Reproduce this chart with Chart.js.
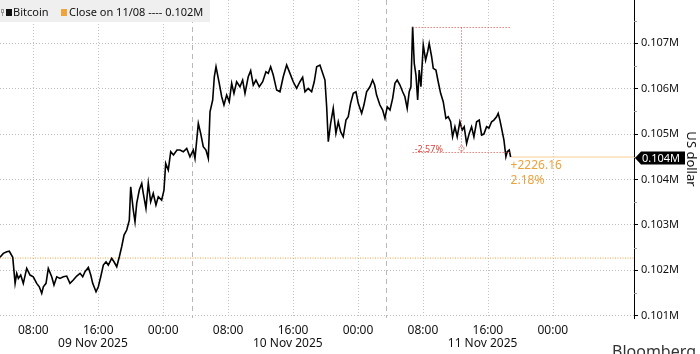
<!DOCTYPE html>
<html>
<head>
<meta charset="utf-8">
<script src="https://cdn.jsdelivr.net/npm/chart.js@4.4.1/dist/chart.umd.min.js"></script>
<style>
html, body { margin: 0; padding: 0; background: #fff; }
#wrap { width: 700px; height: 354px; }
</style>
</head>
<body>
<div id="wrap"><canvas id="chart" width="700" height="354"></canvas></div>
<script>
// hours since 09 Nov 2025 00:00
const hours = [3.90,4.31,4.73,5.05,5.47,5.76,5.96,6.16,6.45,6.77,7.19,7.60,8.00,8.42,8.74,9.04,9.24,9.57,9.85,10.27,
  10.55,10.89,11.29,11.70,12.12,12.52,12.93,13.35,13.76,14.09,14.37,14.78,15.08,15.32,15.73,16.01,16.31,16.63,16.96,17.24,
  17.66,17.94,18.28,18.60,18.89,19.18,19.51,19.83,20.00,20.32,20.53,20.74,21.06,21.36,21.55,21.88,22.17,22.46,22.78,23.11,
  23.40,23.81,24.10,24.31,24.63,24.93,25.27,25.70,26.07,26.48,26.90,27.30,27.71,27.92,28.33,28.62,28.94,29.27,29.56,29.77,
  30.10,30.30,30.51,30.67,30.91,31.21,31.49,31.82,32.14,32.44,32.72,33.05,33.46,33.79,34.08,34.48,34.78,35.10,35.43,35.84,
  36.26,36.66,36.95,37.24,37.56,37.98,38.39,38.79,39.21,39.62,40.02,40.44,40.85,41.18,41.47,41.87,42.29,42.61,42.91,43.31,
  43.65,43.93,44.14,44.34,44.63,44.95,45.28,45.57,45.86,46.18,46.52,46.80,47.09,47.42,47.75,48.03,48.45,48.73,49.06,49.47,
  49.80,50.05,50.29,50.70,51.04,51.32,51.60,51.94,52.27,52.55,52.83,53.17,53.50,53.78,54.06,54.31,54.52,54.73,54.93,55.14,
  55.35,55.54,55.75,56.04,56.33,56.58,56.77,57.07,57.27,57.60,57.88,58.18,58.50,58.83,59.11,59.41,59.65,59.94,60.22,60.55,
  60.84,61.08,61.38,61.70,61.99,62.28,62.61,62.93,63.23,63.51,63.84,64.13,64.46,64.74,65.07,65.27,65.48,65.69,65.98,66.22,
  66.38,66.63,66.80];
const prices = [102290,102374,102409,102420,102286,101713,101933,101823,101896,101713,102043,101896,101858,101713,101638,101493,101638,101713,102043,101858,
  101676,101858,101823,101858,101874,101713,101786,101874,101933,101858,101968,102065,101896,101713,101528,101638,101858,102116,102189,102116,
  102264,102189,102079,102299,102519,102777,102887,103107,103841,103328,103070,103475,103768,103916,103696,103365,103916,103511,103696,103438,
  103621,103548,103768,104356,104209,104612,104540,104650,104650,104612,104687,104502,104650,104467,105238,105017,104722,104650,104467,105493,
  105751,106264,106485,106339,106119,105824,105641,105861,105714,106119,105899,106154,106044,106192,105899,106264,106397,106081,106192,106044,
  106154,106375,106339,106485,106302,105971,105934,106264,106522,106339,106154,106009,106154,106251,105934,106009,105934,106154,106485,106522,
  106339,106192,105603,104832,105238,105568,105017,105273,105053,104942,105310,105383,105678,105899,105934,105678,105458,105641,105934,106044,
  106192,106081,105861,105641,105531,105348,105603,105531,105788,106119,106192,106081,105934,105824,105568,105934,106044,107366,106560,106302,
  105751,106412,106044,106963,106632,106815,107000,106705,106449,106412,106154,105899,105714,105348,105383,105273,104942,105163,104942,105273,
  105090,105163,104797,105017,105163,104942,105273,105310,104980,105002,105163,105134,105273,105310,105383,105458,105310,105127,104870,104502,
  104612,104650,104496];

const closePrice = 102270;
const lastPrice = 104496;
const changeLines = ['+2226.16', '2.18%'];
const legendItems = ['Bitcoin', 'Close on 11/08 ---- 0.102M'];

const xTicks = [8, 16, 24, 32, 40, 48, 56, 64, 72];
const yTicks = [101000, 102000, 103000, 104000, 105000, 106000, 107000];
const dateLabels = ['09 Nov 2025', '10 Nov 2025', '11 Nov 2025'];
const dateHours = [15.35, 39.35, 63.35];
const sessionBreaks = [27.5, 51.5];

// peak-to-trough measurement drawn on the chart
const peakHour = 54.73, peakPrice = 107366, troughPrice = 104605, measureHour = 60.75;
const dropLabel = '-2.57%';

const xMin = 3.9, xMax = 82, yMin = 100950, yMax = 107955;

const FONT = '"Noto Sans", sans-serif';
const ORANGE = '#eba33c';
const RED = '#d8453c';

function fmtHour(v) { return String(v % 24).padStart(2, '0') + ':00'; }
function fmtM(v) { return (v / 1e6).toFixed(3) + 'M'; }

const overlay = {
    id: 'overlay',
    beforeDatasetsDraw(chart) {
        const {ctx, chartArea: a, scales: {x}} = chart;
        ctx.save();
        ctx.lineWidth = 1;
        // time grid, dotted
        ctx.strokeStyle = '#c4c4c4';
        ctx.setLineDash([1, 2]);
        xTicks.forEach(h => {
            const px = Math.round(x.getPixelForValue(h)) + 0.5;
            ctx.beginPath(); ctx.moveTo(px, a.top); ctx.lineTo(px, a.bottom); ctx.stroke();
        });
        // session breaks, dashed
        ctx.strokeStyle = '#b8b8b8';
        ctx.setLineDash([5, 4]);
        sessionBreaks.forEach(h => {
            const px = Math.round(x.getPixelForValue(h)) + 0.5;
            ctx.beginPath(); ctx.moveTo(px, a.top); ctx.lineTo(px, a.bottom); ctx.stroke();
        });
        ctx.restore();
    },
    afterDatasetsDraw(chart) {
        const {ctx, scales: {x, y}} = chart;
        const last = hours[hours.length - 1];
        ctx.save();
        // red peak-to-trough guide
        const x0 = x.getPixelForValue(peakHour), x1 = x.getPixelForValue(last);
        const xm = Math.round(x.getPixelForValue(measureHour)) + 0.5;
        const yTop = Math.round(y.getPixelForValue(peakPrice)) + 0.5;
        const yLow = Math.round(y.getPixelForValue(troughPrice)) + 0.5;
        ctx.strokeStyle = RED;
        ctx.lineWidth = 1;
        ctx.setLineDash([1, 2]);
        ctx.beginPath();
        ctx.moveTo(x0, yTop); ctx.lineTo(x1, yTop);
        ctx.moveTo(xm, yTop); ctx.lineTo(xm, yLow);
        ctx.moveTo(x0, yLow); ctx.lineTo(x1, yLow);
        ctx.stroke();
        ctx.setLineDash([1, 1]);
        ctx.beginPath(); ctx.arc(xm, yLow - 4, 2.5, 0, Math.PI * 2); ctx.stroke();
        ctx.setLineDash([]);
        ctx.fillStyle = RED;
        ctx.font = '9px ' + FONT;
        ctx.textBaseline = 'alphabetic';
        ctx.fillText(dropLabel, x0 + 2, yLow - 1);

        // change since close
        const yl = y.getPixelForValue(lastPrice);
        ctx.fillStyle = ORANGE;
        ctx.font = '12px ' + FONT;
        ctx.textBaseline = 'middle';
        ctx.fillText(changeLines[0], x1, yl + 9);
        ctx.fillText(changeLines[1], x1, yl + 24);
        ctx.restore();
    },
    afterDraw(chart) {
        const {ctx, chartArea: a, scales: {x, y}} = chart;
        ctx.save();
        // minor ticks on the value axis
        ctx.strokeStyle = '#9a9a9a';
        ctx.lineWidth = 1;
        yTicks.forEach(v => {
            const py = Math.round(y.getPixelForValue(v + 500)) + 0.5;
            if (py < a.top) return;
            ctx.beginPath(); ctx.moveTo(a.right, py); ctx.lineTo(a.right + 3, py); ctx.stroke();
        });

        // last price tag
        const yl = y.getPixelForValue(lastPrice);
        const ax = a.right + 1;
        ctx.fillStyle = '#000';
        ctx.beginPath();
        ctx.moveTo(ax, yl + 1);
        ctx.lineTo(ax + 6, yl - 5.5);
        ctx.lineTo(ax + 50, yl - 5.5);
        ctx.lineTo(ax + 50, yl + 7.5);
        ctx.lineTo(ax + 6, yl + 7.5);
        ctx.closePath();
        ctx.fill();
        ctx.fillStyle = '#fff';
        ctx.font = '11px ' + FONT;
        ctx.textBaseline = 'middle';
        ctx.fillText(fmtM(lastPrice), ax + 7, yl + 1.5);

        // date row
        ctx.fillStyle = '#111';
        ctx.font = '12px ' + FONT;
        ctx.textAlign = 'center';
        dateLabels.forEach((d, i) => ctx.fillText(d, x.getPixelForValue(dateHours[i]), 344));

        // legend strip
        ctx.textAlign = 'left';
        ctx.fillStyle = '#efefef';
        ctx.fillRect(0, 0, 210, 22);
        ctx.strokeStyle = '#999';
        ctx.strokeRect(1.5, 9.5, 2, 3);
        ctx.beginPath(); ctx.moveTo(2.5, 12.5); ctx.lineTo(2.5, 16); ctx.stroke();
        ctx.fillStyle = '#111';
        ctx.fillRect(6, 9, 6, 7);
        ctx.font = '11px ' + FONT;
        ctx.fillText(legendItems[0], 13, 13);
        ctx.fillStyle = '#f0a33a';
        ctx.fillRect(61, 9, 6, 7);
        ctx.fillStyle = '#111';
        ctx.fillText(legendItems[1], 69, 13);

        // source mark, cut by the frame
        ctx.fillStyle = '#333';
        ctx.font = '16px ' + FONT;
        ctx.textBaseline = 'top';
        ctx.fillText('Bloomberg', 612, 344);
        ctx.restore();
    }
};

const lastHour = hours[hours.length - 1];

new Chart(document.getElementById('chart'), {
    type: 'line',
    data: {
        datasets: [{
            data: hours.map((h, i) => ({x: h, y: prices[i]})),
            borderColor: '#000',
            borderWidth: 1.6,
            pointRadius: 0,
            tension: 0
        }, {
            data: [{x: lastHour, y: lastPrice}, {x: xMax, y: lastPrice}],
            borderColor: '#f7cf92',
            borderWidth: 1,
            pointRadius: 0
        }, {
            data: [{x: xMin, y: closePrice}, {x: xMax, y: closePrice}],
            borderColor: '#f0a33a',
            borderWidth: 1,
            borderDash: [1, 1.5],
            pointRadius: 0
        }]
    },
    options: {
        responsive: false,
        animation: false,
        layout: {padding: 0},
        plugins: {legend: {display: false}, tooltip: {enabled: false}},
        scales: {
            x: {
                type: 'linear',
                min: xMin,
                max: xMax,
                afterBuildTicks: s => { s.ticks = xTicks.map(v => ({value: v})); },
                afterFit: s => { s.height = 36; s.paddingLeft = 0; s.paddingRight = 0; },
                ticks: {
                    callback: v => fmtHour(v),
                    font: {family: 'Noto Sans', size: 12},
                    color: '#111',
                    padding: 5,
                    maxRotation: 0,
                    autoSkip: false
                },
                grid: {drawOnChartArea: false, drawTicks: false},
                border: {display: false}
            },
            y: {
                position: 'right',
                min: yMin,
                max: yMax,
                afterBuildTicks: s => { s.ticks = yTicks.map(v => ({value: v})); },
                afterFit: s => { s.width = 66; s.paddingTop = 0; s.paddingBottom = 0; },
                ticks: {
                    callback: v => fmtM(v),
                    font: {family: 'Noto Sans', size: 11},
                    color: '#111',
                    padding: 3
                },
                grid: {color: '#bdbdbd', lineWidth: 1, tickColor: '#000', tickLength: 4, tickWidth: 1},
                border: {display: true, color: '#000', width: 1, dash: [1, 2]},
                title: {display: true, text: 'US dollar', color: '#111', font: {family: 'Noto Sans', size: 13}, padding: 1}
            }
        }
    },
    plugins: [overlay]
});
</script>
</body>
</html>
